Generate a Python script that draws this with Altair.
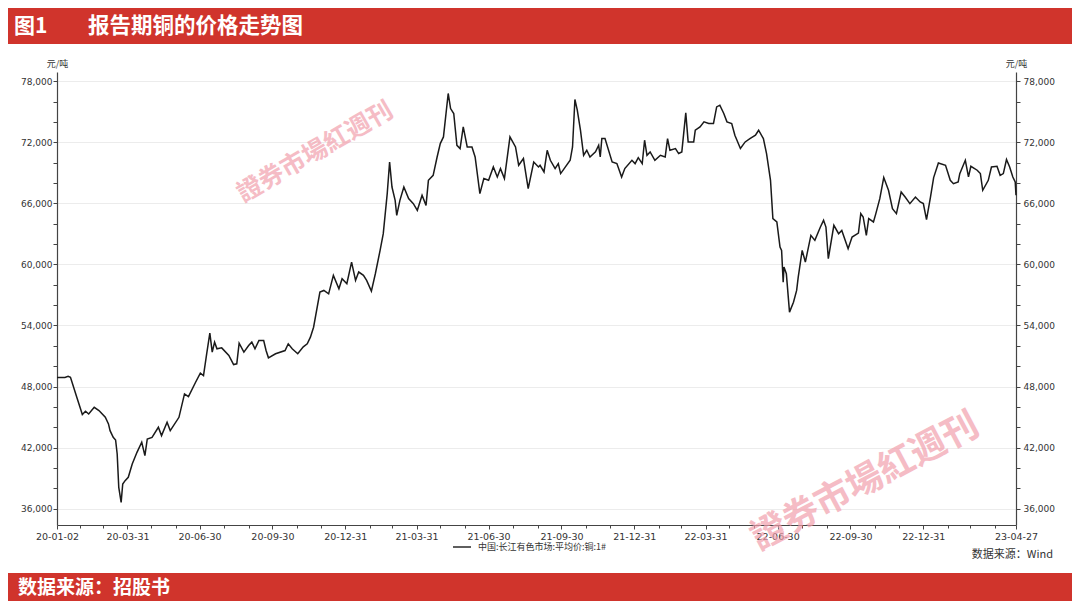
import calendar
import altair as alt
import pandas as pd

# ---------------- data ----------------
dates = [
    "2020-01-02", "2020-01-12", "2020-01-16", "2020-01-19", "2020-01-27", "2020-02-03", "2020-02-07",
    "2020-02-11", "2020-02-18", "2020-02-24", "2020-03-03", "2020-03-07", "2020-03-09", "2020-03-13",
    "2020-03-16", "2020-03-18", "2020-03-20", "2020-03-23", "2020-03-25", "2020-03-28", "2020-04-01",
    "2020-04-06", "2020-04-12", "2020-04-18", "2020-04-22", "2020-04-25", "2020-05-01", "2020-05-09",
    "2020-05-13", "2020-05-20", "2020-05-24", "2020-06-04", "2020-06-11", "2020-06-16", "2020-06-25",
    "2020-07-01", "2020-07-05", "2020-07-09", "2020-07-13", "2020-07-16", "2020-07-19", "2020-07-22",
    "2020-07-28", "2020-08-06", "2020-08-12", "2020-08-16", "2020-08-19", "2020-08-25", "2020-08-31",
    "2020-09-04", "2020-09-08", "2020-09-13", "2020-09-19", "2020-09-22", "2020-09-25", "2020-10-04",
    "2020-10-16", "2020-10-20", "2020-10-25", "2020-11-01", "2020-11-08", "2020-11-13", "2020-11-17",
    "2020-11-21", "2020-11-29", "2020-12-04", "2020-12-10", "2020-12-16", "2020-12-23", "2020-12-27",
    "2021-01-02", "2021-01-08", "2021-01-13", "2021-01-17", "2021-01-23", "2021-01-27", "2021-02-02",
    "2021-02-07", "2021-02-13", "2021-02-17", "2021-02-22", "2021-02-25", "2021-02-28", "2021-03-04",
    "2021-03-06", "2021-03-10", "2021-03-15", "2021-03-21", "2021-03-27", "2021-04-01", "2021-04-07",
    "2021-04-12", "2021-04-15", "2021-04-21", "2021-04-26", "2021-04-30", "2021-05-04", "2021-05-10",
    "2021-05-13", "2021-05-17", "2021-05-21", "2021-05-25", "2021-05-29", "2021-06-03", "2021-06-09",
    "2021-06-13", "2021-06-19", "2021-06-24", "2021-06-30", "2021-07-06", "2021-07-11", "2021-07-15",
    "2021-07-20", "2021-07-27", "2021-08-03", "2021-08-07", "2021-08-13", "2021-08-19", "2021-08-26",
    "2021-09-01", "2021-09-03", "2021-09-08", "2021-09-12", "2021-09-16", "2021-09-22", "2021-09-26",
    "2021-09-29", "2021-10-11", "2021-10-14", "2021-10-17", "2021-10-20", "2021-10-24", "2021-10-28",
    "2021-11-01", "2021-11-05", "2021-11-12", "2021-11-16", "2021-11-18", "2021-11-20", "2021-11-24",
    "2021-12-03", "2021-12-09", "2021-12-15", "2021-12-19", "2021-12-28", "2022-01-01", "2022-01-05",
    "2022-01-10", "2022-01-13", "2022-01-16", "2022-01-20", "2022-01-26", "2022-02-02", "2022-02-08",
    "2022-02-11", "2022-02-14", "2022-02-21", "2022-02-25", "2022-03-01", "2022-03-06", "2022-03-09",
    "2022-03-16", "2022-03-18", "2022-03-24", "2022-03-29", "2022-04-04", "2022-04-10", "2022-04-14",
    "2022-04-18", "2022-04-23", "2022-04-27", "2022-05-03", "2022-05-07", "2022-05-14", "2022-05-20",
    "2022-05-26", "2022-06-02", "2022-06-06", "2022-06-12", "2022-06-16", "2022-06-21", "2022-06-24",
    "2022-06-29", "2022-07-03", "2022-07-05", "2022-07-07", "2022-07-08", "2022-07-11", "2022-07-15",
    "2022-07-20", "2022-07-24", "2022-07-26", "2022-07-31", "2022-08-04", "2022-08-11", "2022-08-16",
    "2022-08-23", "2022-08-27", "2022-08-30", "2022-09-02", "2022-09-09", "2022-09-15", "2022-09-19",
    "2022-09-27", "2022-10-02", "2022-10-10", "2022-10-13", "2022-10-16", "2022-10-20", "2022-10-23",
    "2022-10-29", "2022-11-01", "2022-11-06", "2022-11-11", "2022-11-17", "2022-11-22", "2022-11-27",
    "2022-12-03", "2022-12-08", "2022-12-14", "2022-12-21", "2022-12-27", "2022-12-31", "2023-01-04",
    "2023-01-09", "2023-01-13", "2023-01-19", "2023-01-28", "2023-02-03", "2023-02-07", "2023-02-13",
    "2023-02-15", "2023-02-22", "2023-02-26", "2023-03-01", "2023-03-09", "2023-03-13", "2023-03-16",
    "2023-03-23", "2023-03-27", "2023-04-03", "2023-04-07", "2023-04-11", "2023-04-15", "2023-04-19",
    "2023-04-23", "2023-04-26", "2023-04-27",
]
prices = [
    48900, 48900, 49000, 48900, 46950, 45250, 45570,
    45300, 45960, 45640, 44980, 44330, 43670, 43010,
    42750, 41380, 38100, 36620, 38430, 38760, 39090,
    40400, 41540, 42530, 41220, 42850, 43010, 44000,
    43180, 44490, 43670, 44980, 47280, 47010, 48420,
    49310, 49080, 51220, 53250, 51380, 52360, 51710,
    51800, 51050, 50160, 50230, 52260, 51380, 52030,
    52360, 51710, 52520, 52520, 51540, 50820, 51220,
    51540, 52200, 51710, 51220, 51900, 52200, 52850,
    53830, 57280, 57440, 57110, 58920, 57610, 58590,
    58100, 60230, 58430, 59250, 58920, 58430, 57380,
    59080, 61380, 63020, 66950, 70060, 67600, 66290,
    64820, 66290, 67600, 66460, 65970, 65310, 66790,
    65800, 68260, 68750, 70550, 71870, 72520, 76790,
    75310, 74820, 71700, 71380, 73510, 71540, 71540,
    70550, 66950, 68430, 68260, 69570, 68590, 69410,
    68430, 72520, 71540, 69740, 70400, 67440, 70060,
    69570, 69740, 69080, 71210, 70230, 69410, 69900,
    68920, 70230, 71540, 76200, 75150, 73180, 70720,
    71210, 70550, 71050, 71700, 70550, 72360, 72360,
    70060, 69900, 68590, 69410, 70230, 69900, 70490,
    69900, 72200, 70720, 71050, 70230, 70720, 70550,
    72360, 71210, 71380, 70890, 71050, 74890, 72030,
    72030, 73180, 73510, 74000, 73840, 73840, 75470,
    75640, 74820, 74000, 73840, 72690, 71380, 72030,
    72360, 72690, 73180, 72360, 70890, 68260, 64500,
    64170, 61700, 61380, 58260, 59740, 59080, 55310,
    56290, 57440, 58750, 61380, 60230, 62850, 62360,
    63670, 64330, 63670, 60560, 63840, 63020, 63340,
    61540, 62690, 63080, 64990, 64660, 62850, 64500,
    64170, 64990, 66460, 68530, 67280, 65480, 64990,
    67110, 66620, 65970, 66620, 66130, 65970, 64400,
    66620, 68530, 69960, 69740, 68260, 67930, 68100,
    68920, 70230, 68590, 69640, 69250, 68920, 67280,
    68260, 69570, 69640, 68750, 68920, 70300, 69570,
    68590, 68100, 66790,
]
series_name = "中国:长江有色市场:平均价:铜:1#"
y_ticks = list(range(36000, 78001, 2000))
y_domain = [34400, 78900]
x_first = (2020, 1, 2)
x_last = (2023, 4, 27)

title_fig = "图1"
title_text = "报告期铜的价格走势图"
footer_text = "数据来源：招股书"
source_text = "数据来源：Wind"
unit_text = "元/吨"
watermark_text = "證券市場紅週刊"

# ---------------- styling ----------------
RED = "#d0342c"
LABEL_FONT = "DejaVu Sans"
CJK_FONT = "Noto Sans CJK SC"
AXIS_COLOR = "#444444"
TEXT_COLOR = "#333333"


def dt(y, m, d):
    return alt.DateTime(year=y, month=m, date=d, utc=True)


# month-end minor ticks plus first / last dates
x_tick_values = [dt(*x_first)]
for yy in range(2020, 2024):
    for mm in range(1, 13):
        if (yy, mm) <= (2023, 3):
            x_tick_values.append(dt(yy, mm, calendar.monthrange(yy, mm)[1]))
x_tick_values.append(dt(*x_last))

major_x_test = ("utcdate(datum.value) < 28 || "
                "(utcmonth(datum.value) % 3 == 2 && utcyear(datum.value) < 2023)")

df = pd.DataFrame({"date": dates, "price": prices, "series": series_name})

x_scale = alt.Scale(type="utc", domain=[dt(*x_first), dt(*x_last)], nice=False)
y_scale = alt.Scale(domain=y_domain, nice=False, zero=False)

x_axis = alt.Axis(
    values=x_tick_values,
    labelExpr=f"({major_x_test}) ? utcFormat(datum.value, '%y-%m-%d') : ''",
    tickSize={"condition": {"test": major_x_test, "value": 4}, "value": 3},
    tickColor=AXIS_COLOR, domainColor=AXIS_COLOR, domainWidth=1.2,
    labelFont=LABEL_FONT, labelFontSize=9.5, labelColor=TEXT_COLOR,
    labelPadding=2, labelOverlap=False, labelBound=False, labelFlush=False,
    grid=False, title=None,
)

y_common = dict(
    values=y_ticks,
    labelExpr="datum.value % 6000 == 0 ? format(datum.value, ',') : ''",
    tickSize=4, tickColor=AXIS_COLOR, domainColor=AXIS_COLOR, domainWidth=1.2,
    labelFont=LABEL_FONT, labelFontSize=9, labelColor=TEXT_COLOR,
    labelOverlap=False, labelFlush=False,
    title=unit_text, titleAngle=0, titleX=0, titleY=-9, titleAlign="center",
    titleBaseline="middle", titleFont=CJK_FONT, titleFontSize=9,
    titleFontWeight="normal", titleColor=TEXT_COLOR,
)
left_axis = alt.Axis(
    orient="left", labelPadding=1, grid=True, gridColor="#ececec",
    gridOpacity={"condition": {"test": "datum.value % 6000 != 0", "value": 0}, "value": 1},
    **y_common,
)
right_axis = alt.Axis(orient="right", labelPadding=3, grid=False, **y_common)

legend = alt.Legend(
    orient="none", legendX=395, legendY=465, title=None, symbolType="stroke",
    symbolSize=324, symbolStrokeWidth=1.4, labelFont=CJK_FONT, labelFontSize=9,
    labelColor=TEXT_COLOR, labelOffset=6,
)

line = alt.Chart(df).mark_line(strokeWidth=1.5).encode(
    x=alt.X("date:T", scale=x_scale, axis=x_axis),
    y=alt.Y("price:Q", scale=y_scale, axis=left_axis),
    color=alt.Color("series:N", scale=alt.Scale(range=["#1a1a1a"]), legend=legend),
)
line_right = alt.Chart(df).mark_line(opacity=0).encode(
    x=alt.X("date:T", scale=x_scale, axis=x_axis),
    y=alt.Y("price:Q", scale=y_scale, axis=right_axis),
)

one = pd.DataFrame({"k": [0]})

header_band = alt.Chart(one).mark_rect(color=RED).encode(
    x=alt.value(-49), x2=alt.value(1015), y=alt.value(-64), y2=alt.value(-28))
footer_band = alt.Chart(one).mark_rect(color=RED).encode(
    x=alt.value(-49), x2=alt.value(1015), y=alt.value(501), y2=alt.value(529))

header_fig = alt.Chart(pd.DataFrame({"t": [title_fig]})).mark_text(
    font=CJK_FONT, fontSize=21, fontWeight="bold", color="white", align="left", baseline="middle"
).encode(text="t:N", x=alt.value(-43), y=alt.value(-45))
header_title = alt.Chart(pd.DataFrame({"t": [title_text]})).mark_text(
    font=CJK_FONT, fontSize=21.5, fontWeight="bold", color="white", align="left", baseline="middle"
).encode(text="t:N", x=alt.value(31), y=alt.value(-45))
footer = alt.Chart(pd.DataFrame({"t": [footer_text]})).mark_text(
    font=CJK_FONT, fontSize=19, fontWeight="bold", color="white", align="left", baseline="middle"
).encode(text="t:N", x=alt.value(-39), y=alt.value(516))
source = alt.Chart(pd.DataFrame({"t": [source_text]})).mark_text(
    font=CJK_FONT, fontSize=11, color=TEXT_COLOR, align="right", baseline="middle"
).encode(text="t:N", x=alt.value(996), y=alt.value(483))

wm1 = alt.Chart(pd.DataFrame({"t": [watermark_text]})).mark_text(
    font=CJK_FONT, fontSize=25, fontWeight="bold", color="#f2a0ad", opacity=0.7,
    angle=330, align="center", baseline="middle"
).encode(text="t:N", x=alt.value(258), y=alt.value(80))
wm2 = alt.Chart(pd.DataFrame({"t": [watermark_text]})).mark_text(
    font=CJK_FONT, fontSize=36, fontWeight="bold", color="#f2a0ad", opacity=0.7,
    angle=332, align="center", baseline="middle"
).encode(text="t:N", x=alt.value(808), y=alt.value(410))

chart = alt.layer(
    header_band, footer_band, header_fig, header_title, footer, source,
    line, line_right, wm1, wm2,
).resolve_axis(y="independent").properties(
    width=959, height=453, padding=0, background="white"
).configure_view(stroke="transparent")

chart.save("out.html", embed_options={"renderer": "svg", "actions": False})
